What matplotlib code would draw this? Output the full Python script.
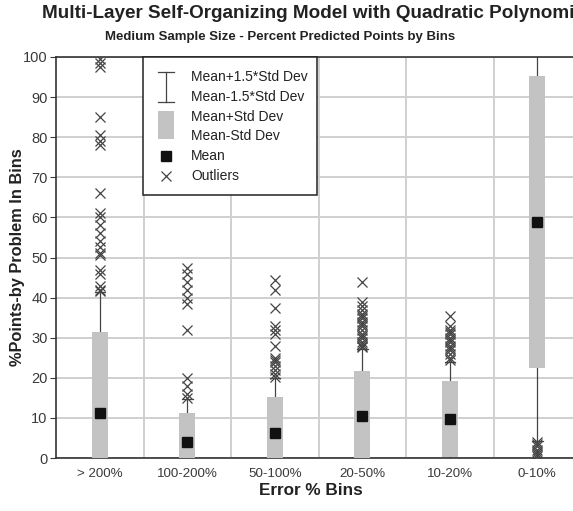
import numpy as np
import matplotlib
matplotlib.use("Agg")
import matplotlib.pyplot as plt
from matplotlib.patches import Rectangle

# -----------------------------
# DATA
# -----------------------------
bins = ["> 200%", "100-200%", "50-100%", "20-50%", "10-20%", "0-10%"]
means = [11.2, 4.0, 6.2, 10.5, 9.7, 58.9]
std_devs = [20.2, 7.2, 9.1, 11.2, 9.5, 36.4]

outliers_gt200 = [99.5, 98.5, 97.5, 85, 80.5, 79, 78, 66, 61, 60, 58, 56,
                  54, 52.5, 51, 50.5, 47, 46, 43, 42, 41.6]
outliers_100_200 = [47.5, 46, 44, 42, 40, 38.5, 32, 20, 18, 16, 15]
outliers_50_100 = [44.5, 42, 37.5, 33, 32, 31, 28, 25, 24.5, 24, 23, 22,
                   21, 20.2]
outliers_20_50 = [44, 39, 38, 37, 36, 35.5, 35, 34, 33.5, 33, 32, 31, 30.5,
                  30, 29, 28.5, 28, 27.7]
outliers_10_20 = [35.5, 33, 32, 31.5, 31, 30, 29.5, 29, 28, 27.5, 27, 26,
                  25, 24.4]
outliers_0_10 = [4, 3.5, 3, 2, 1.5, 1, 0.5]
outliers = [outliers_gt200, outliers_100_200, outliers_50_100,
            outliers_20_50, outliers_10_20, outliers_0_10]

y_ticks = list(range(0, 101, 10))

# -----------------------------
# STYLE
# -----------------------------
plt.rcParams["font.family"] = ["Liberation Sans", "DejaVu Sans"]
BOX_COLOR = "#c3c3c3"
LINE_COLOR = "#444444"
TEXT_COLOR = "#3a3a3a"
GRID_COLOR = "#cfcfcf"

fig = plt.figure(figsize=(5.73, 5.11), dpi=100)
# axes deliberately runs past the right edge (the original is cropped)
ax = fig.add_axes([56 / 573, 53 / 511, 525 / 573, 401 / 511])

x = np.arange(len(bins))
box_w = 0.18
cap_w = 0.12

for i in x:
    m, s = means[i], std_devs[i]
    lo, hi = max(m - s, 0), min(m + s, 100)
    w_lo, w_hi = m - 1.5 * s, m + 1.5 * s
    # whiskers
    ax.plot([i, i], [hi, w_hi], color=LINE_COLOR, lw=0.9, zorder=2)
    ax.plot([i, i], [w_lo, lo], color=LINE_COLOR, lw=0.9, zorder=2)
    for w in (w_lo, w_hi):
        ax.plot([i - cap_w / 2, i + cap_w / 2], [w, w], color=LINE_COLOR,
                lw=0.9, zorder=2)
    # mean +/- std box
    ax.bar(i, hi - lo, bottom=lo, width=box_w, color=BOX_COLOR, zorder=3)
    # outliers
    ax.plot([i] * len(outliers[i]), outliers[i], linestyle="none",
            marker="x", ms=7, mew=0.9, color=LINE_COLOR, zorder=4)

ax.plot(x, means, linestyle="none", marker="s", ms=6.5, color="#111111",
        zorder=5)

ax.set_xlim(-0.5, 5.5)
ax.set_ylim(0, 100)
ax.set_yticks(y_ticks)
ax.set_xticks(x)
ax.set_xticklabels(bins)
ax.set_xticks(x[:-1] + 0.5, minor=True)
ax.tick_params(axis="x", which="both", length=0, labelsize=9.6,
               colors=TEXT_COLOR, pad=7)
ax.tick_params(axis="y", length=4, width=0.8, labelsize=10.5,
               colors=TEXT_COLOR, pad=2)
ax.grid(True, axis="y", which="major", color=GRID_COLOR, lw=1.4, zorder=0)
ax.grid(True, axis="x", which="minor", color=GRID_COLOR, lw=1.4, zorder=0)
ax.set_axisbelow(True)
for side in ("left", "bottom", "top"):
    ax.spines[side].set_color("#333333")
    ax.spines[side].set_linewidth(1.2)
ax.spines["right"].set_visible(False)

ax.set_xlabel("Error % Bins", fontsize=12.3, fontweight="bold",
              color="#222222")
ax.xaxis.set_label_coords((311 - 56) / 525, -(483 - 458) / 401)
ax.set_ylabel("%Points-by Problem In Bins", fontsize=11.8,
              fontweight="bold", color="#222222")
ax.yaxis.set_label_coords((25 - 56) / 525, 0.5)

fig.text(42 / 573, 1 - 14 / 511,
         "Multi-Layer Self-Organizing Model with Quadratic Polynomi",
         fontsize=13.6, fontweight="bold", color="#222222",
         ha="left", va="center")
fig.text(280 / 573, 1 - 37 / 511,
         "Medium Sample Size - Percent Predicted Points by Bins",
         fontsize=9.5, fontweight="bold", color="#222222",
         ha="center", va="center")

# -----------------------------
# LEGEND (hand-built box)
# -----------------------------
def fx(px):
    return px / 573

def fy(py):
    return 1 - py / 511

leg = Rectangle((fx(143), fy(195)), fx(317) - fx(143), fy(57) - fy(195),
                transform=fig.transFigure, facecolor="white",
                edgecolor="#222222", lw=1.1, zorder=10)
fig.add_artist(leg)

sym_x = 166
fig.add_artist(plt.Line2D([fx(sym_x), fx(sym_x)], [fy(72), fy(102)],
                          transform=fig.transFigure, color=LINE_COLOR,
                          lw=0.9, zorder=11))
for yy in (72, 102):
    fig.add_artist(plt.Line2D([fx(sym_x - 8), fx(sym_x + 8)], [fy(yy), fy(yy)],
                              transform=fig.transFigure, color=LINE_COLOR,
                              lw=0.9, zorder=11))
fig.add_artist(Rectangle((fx(158), fy(139)), fx(174) - fx(158),
                         fy(111) - fy(139), transform=fig.transFigure,
                         facecolor=BOX_COLOR, edgecolor="none", zorder=11))
fig.add_artist(plt.Line2D([fx(sym_x)], [fy(156)], transform=fig.transFigure,
                          marker="s", ms=6.5, color="#111111", zorder=11))
fig.add_artist(plt.Line2D([fx(sym_x)], [fy(176)], transform=fig.transFigure,
                          marker="x", ms=7, mew=0.9, color=LINE_COLOR,
                          zorder=11))

legend_labels = ["Mean+1.5*Std Dev", "Mean-1.5*Std Dev", "Mean+Std Dev",
                 "Mean-Std Dev", "Mean", "Outliers"]
for k, lab in enumerate(legend_labels):
    fig.text(fx(191), fy(77 + k * 19.8), lab, fontsize=10,
             color="#222222", ha="left", va="center", zorder=12)

fig.savefig("out.png", dpi=100)
